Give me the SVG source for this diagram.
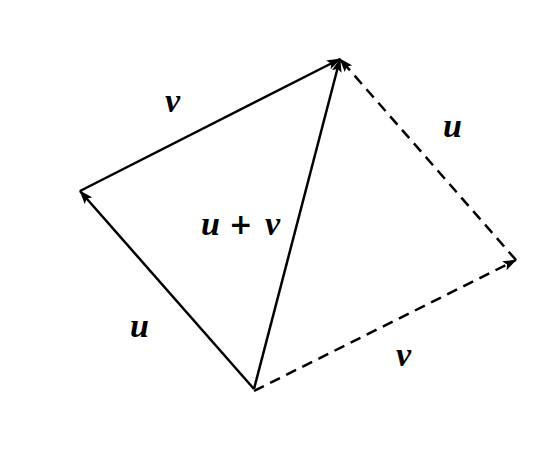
<svg xmlns="http://www.w3.org/2000/svg" width="546" height="449" viewBox="0 0 546 449">
<style>
.ln{stroke:#000;stroke-width:2.5;fill:none}
.ds{stroke-dasharray:11 7}
.lb{font-family:"Liberation Serif",serif;font-weight:bold;font-style:italic;font-size:34px;fill:#000}
.op{font-style:normal;font-weight:bold;font-family:"DejaVu Sans",sans-serif;font-size:28px}
</style>
<defs>
<marker id="ah" markerWidth="14" markerHeight="10" refX="13" refY="5" orient="auto" markerUnits="userSpaceOnUse">
<path d="M0,0 L14,5 L0,10 L3,5 Z" fill="#000"/>
</marker>
</defs>
<rect width="546" height="449" fill="#fff"/>
<g id="connectors">
<line class="ln" x1="254" y1="389" x2="80" y2="191" marker-end="url(#ah)"/>
<line class="ln" x1="80" y1="191" x2="340" y2="59" marker-end="url(#ah)"/>
<line class="ln" x1="254" y1="389" x2="340" y2="59" marker-end="url(#ah)"/>
<line class="ln ds" x1="254" y1="391" x2="516" y2="260" marker-end="url(#ah)"/>
<line class="ln ds" x1="516" y1="260" x2="340" y2="59" marker-end="url(#ah)"/>
</g>
<g id="labels">
<text class="lb" x="165" y="112">v</text>
<text class="lb" x="443" y="137">u</text>
<text class="lb" x="201" y="235">u</text>
<text class="lb op" x="229" y="234">+</text>
<text class="lb" x="265" y="235">v</text>
<text class="lb" x="130" y="337">u</text>
<text class="lb" x="396" y="366">v</text>
</g>
</svg>
